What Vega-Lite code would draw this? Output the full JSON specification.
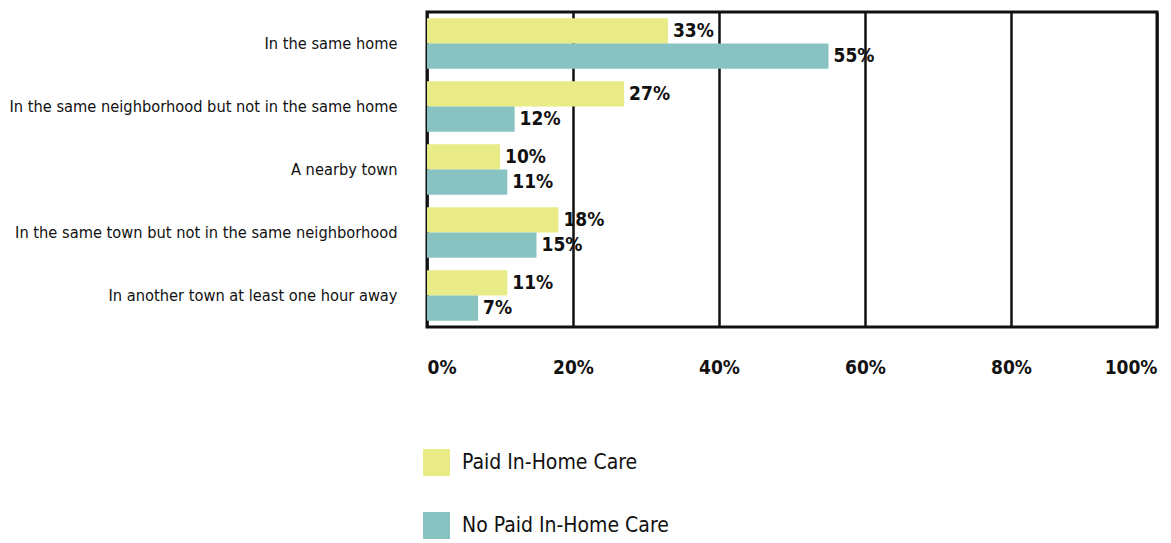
{
  "$schema": "https://vega.github.io/schema/vega-lite/v6.json",
  "width": 730,
  "height": 315,
  "autosize": "none",
  "padding": {"left": 427, "top": 12, "right": 14, "bottom": 216},
  "background": "white",
  "config": {
    "font": "DejaVu Sans Condensed",
    "view": {"stroke": "#111111", "strokeWidth": 3}
  },
  "data": {
    "values": [
      {"location": "In the same home", "group": "Paid In-Home Care", "value": 0.33},
      {"location": "In the same home", "group": "No Paid In-Home Care", "value": 0.55},
      {"location": "In the same neighborhood but not in the same home", "group": "Paid In-Home Care", "value": 0.27},
      {"location": "In the same neighborhood but not in the same home", "group": "No Paid In-Home Care", "value": 0.12},
      {"location": "A nearby town", "group": "Paid In-Home Care", "value": 0.10},
      {"location": "A nearby town", "group": "No Paid In-Home Care", "value": 0.11},
      {"location": "In the same town but not in the same neighborhood", "group": "Paid In-Home Care", "value": 0.18},
      {"location": "In the same town but not in the same neighborhood", "group": "No Paid In-Home Care", "value": 0.15},
      {"location": "In another town at least one hour away", "group": "Paid In-Home Care", "value": 0.11},
      {"location": "In another town at least one hour away", "group": "No Paid In-Home Care", "value": 0.07}
    ]
  },
  "encoding": {
    "y": {
      "field": "location",
      "type": "nominal",
      "sort": null,
      "title": null,
      "scale": {"paddingInner": 0.2, "paddingOuter": 0.1},
      "axis": {
        "domain": false,
        "ticks": false,
        "labelPadding": 30,
        "labelFontSize": 16.3,
        "labelColor": "#111111",
        "labelLimit": 500
      }
    },
    "yOffset": {
      "field": "group",
      "type": "nominal",
      "sort": ["Paid In-Home Care", "No Paid In-Home Care"]
    },
    "x": {
      "field": "value",
      "type": "quantitative",
      "title": null,
      "scale": {"domain": [0, 1], "nice": false},
      "axis": {
        "values": [0, 0.2, 0.4, 0.6, 0.8, 1],
        "format": ".0%",
        "domain": false,
        "ticks": false,
        "grid": true,
        "gridColor": "#111111",
        "gridWidth": 2.5,
        "gridOpacity": 1,
        "labelPadding": 31,
        "labelFontSize": 19,
        "labelFontWeight": "bold",
        "labelColor": "#111111",
        "labelFlush": true
      }
    }
  },
  "layer": [
    {
      "mark": {"type": "bar", "opacity": 1},
      "encoding": {
        "color": {
          "field": "group",
          "type": "nominal",
          "title": null,
          "sort": ["Paid In-Home Care", "No Paid In-Home Care"],
          "scale": {"domain": ["Paid In-Home Care", "No Paid In-Home Care"], "range": ["#E9EB87", "#88C3C1"]},
          "legend": {
            "orient": "none",
            "legendX": -4,
            "legendY": 437,
            "direction": "vertical",
            "symbolType": "square",
            "symbolSize": 729,
            "symbolStrokeWidth": 0,
            "labelFontSize": 21,
            "labelColor": "#111111",
            "labelOffset": 12,
            "rowPadding": 36,
            "labelLimit": 400
          }
        }
      }
    },
    {
      "mark": {"type": "text", "align": "left", "baseline": "middle", "dx": 5, "fontSize": 19, "fontWeight": "bold", "color": "#111111"},
      "encoding": {
        "text": {"field": "value", "type": "quantitative", "format": ".0%"}
      }
    }
  ]
}
